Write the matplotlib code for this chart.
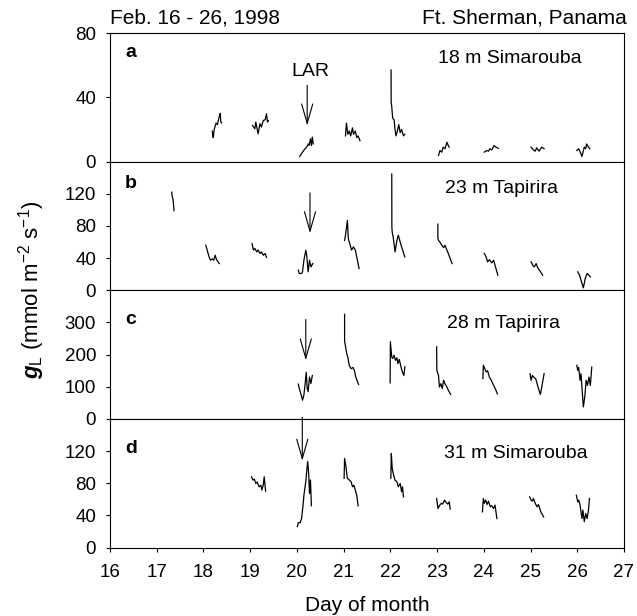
import matplotlib
matplotlib.use("Agg")
import matplotlib.pyplot as plt

plt.rcParams['font.family'] = ['Liberation Sans', 'DejaVu Sans']
plt.rcParams['mathtext.fontset'] = 'custom'
plt.rcParams['mathtext.rm'] = 'Liberation Sans'
plt.rcParams['mathtext.it'] = 'Liberation Sans:italic'
plt.rcParams['mathtext.bf'] = 'Liberation Sans:bold:italic'

# a: 18 m Simarouba, one list per day (time in day of month, gL in mmol m-2 s-1)
a_t = [
    [18.19, 18.20, 18.21, 18.23, 18.25, 18.27, 18.30, 18.32, 18.34, 18.36, 18.37, 18.39],
    [19.05, 19.10, 19.12, 19.17, 19.21, 19.24, 19.28, 19.32, 19.35, 19.37, 19.39],
    [20.06, 20.12, 20.17, 20.21, 20.24, 20.26, 20.29, 20.31, 20.33, 20.35],
    [21.04, 21.06, 21.09, 21.12, 21.15, 21.19, 21.21, 21.25, 21.28, 21.31, 21.35],
    [22.015, 22.017, 22.03, 22.05, 22.08, 22.10, 22.12, 22.15, 22.18, 22.21, 22.24, 22.28, 22.31],
    [23.03, 23.06, 23.10, 23.13, 23.17, 23.21, 23.24, 23.26],
    [24.01, 24.06, 24.10, 24.13, 24.17, 24.22, 24.26, 24.31],
    [25.01, 25.06, 25.10, 25.13, 25.18, 25.24, 25.29],
    [25.99, 26.03, 26.08, 26.10, 26.15, 26.18, 26.20, 26.24, 26.27],
]
a_g = [
    [19, 16, 15, 20, 22, 24, 23, 26, 28, 30, 25, 24],
    [22.5, 20.4, 24.6, 17.3, 23.6, 21.5, 25.6, 26, 29.8, 24.6, 25.5],
    [3.2, 5.9, 7.9, 9, 11, 10, 14.2, 10, 15.2, 11],
    [16, 24, 17, 19, 16, 21, 17, 19, 15, 16, 13],
    [57, 37, 34, 27, 26, 20, 16, 19, 23, 18, 20, 16, 17],
    [3.8, 6.9, 5.9, 9, 8, 12.1, 10, 9],
    [5.9, 6.9, 6.5, 8, 7.3, 10, 9, 8.3],
    [9, 7.3, 6.5, 8.6, 6.5, 9, 8],
    [6.9, 8, 4.8, 3.2, 9, 8, 11, 9, 8],
]

# b: 23 m Tapirira
b_t = [
    [17.32, 17.33, 17.35, 17.37],
    [18.05, 18.08, 18.12, 18.15, 18.19, 18.22, 18.25, 18.28, 18.34],
    [19.04, 19.07, 19.10, 19.14, 19.17, 19.21, 19.24, 19.28, 19.32, 19.35],
    [20.03, 20.05, 20.10, 20.12, 20.15, 20.19, 20.21, 20.24, 20.27, 20.30, 20.34],
    [21.02, 21.04, 21.08, 21.10, 21.14, 21.17, 21.21, 21.25, 21.28, 21.33],
    [22.03, 22.032, 22.04, 22.06, 22.10, 22.14, 22.17, 22.21, 22.24, 22.31],
    [23.016, 23.017, 23.03, 23.06, 23.10, 23.14, 23.17, 23.21, 23.24, 23.32],
    [24.01, 24.05, 24.08, 24.12, 24.17, 24.21, 24.30],
    [25.01, 25.05, 25.08, 25.12, 25.16, 25.19, 25.26],
    [26.01, 26.05, 26.09, 26.13, 26.17, 26.21, 26.25, 26.28],
]
b_g = [
    [122, 117, 113, 99],
    [56, 49.8, 41.5, 37.4, 39, 37.4, 43.6, 38, 33.2],
    [58, 50, 52, 47.7, 50, 45.7, 47.7, 43.6, 45.7, 40.7],
    [25, 20.8, 20.8, 23, 37.4, 49.8, 43.6, 22.9, 37.4, 29, 33.2],
    [62, 68.5, 87, 64.3, 56, 50, 54, 50, 41.5, 27],
    [144.5, 78.9, 72, 66.4, 47.7, 62, 68.5, 60, 54, 41.5],
    [82.2, 64.3, 62, 60, 56, 53, 56, 50, 45.7, 33.2],
    [45.7, 41.5, 35.3, 38, 34, 37.4, 18.7],
    [35.3, 31, 29, 33.2, 27, 25, 18.7],
    [22.9, 18.7, 10.4, 3, 14.6, 20.8, 18.7, 16.6],
]

# c: 28 m Tapirira
c_t = [
    [20.03, 20.05, 20.07, 20.10, 20.12, 20.15, 20.17, 20.20, 20.22, 20.24, 20.27, 20.30, 20.33],
    [21.02, 21.021, 21.03, 21.07, 21.09, 21.12, 21.16, 21.20, 21.23, 21.26, 21.32],
    [21.995, 22.0, 22.03, 22.05, 22.08, 22.11, 22.14, 22.16, 22.19, 22.23, 22.26, 22.29, 22.31],
    [22.99, 22.995, 23.03, 23.05, 23.08, 23.11, 23.14, 23.16, 23.21, 23.24, 23.29],
    [23.98, 23.99, 24.01, 24.05, 24.08, 24.12, 24.16, 24.21, 24.26, 24.29],
    [24.99, 25.01, 25.04, 25.08, 25.11, 25.13, 25.17, 25.21, 25.24, 25.29],
    [25.99, 26.01, 26.03, 26.06, 26.08, 26.11, 26.13, 26.16, 26.19, 26.22, 26.25, 26.28, 26.31],
]
c_g = [
    [108, 95, 85, 70, 58, 75, 100, 145, 95, 85, 130, 110, 135],
    [325, 239, 234, 200, 192, 166, 156, 160, 151, 130, 107],
    [112, 240, 192, 188, 198, 182, 190, 172, 185, 160, 145, 135, 162],
    [224, 151, 135, 99, 109.5, 94, 120, 111.6, 99, 89, 76],
    [125, 166.6, 160, 145.8, 150, 130, 120, 104, 89, 78],
    [140.6, 120, 135, 128, 125, 115, 94, 76, 99, 140.6],
    [166.6, 151, 160, 120, 140, 78, 37, 68, 120, 104, 130, 104, 161],
]

# d: 31 m Simarouba
d_t = [
    [19.03, 19.06, 19.09, 19.12, 19.15, 19.19, 19.23, 19.25, 19.28, 19.30, 19.33],
    [20.01, 20.03, 20.07, 20.10, 20.13, 20.15, 20.19, 20.23, 20.25, 20.27, 20.29, 20.31],
    [21.01, 21.02, 21.05, 21.08, 21.12, 21.16, 21.19, 21.22, 21.26, 21.28, 21.31],
    [22.01, 22.02, 22.04, 22.07, 22.10, 22.14, 22.17, 22.21, 22.24, 22.26, 22.28],
    [22.99, 23.02, 23.05, 23.09, 23.12, 23.16, 23.19, 23.23, 23.26, 23.28],
    [23.97, 23.99, 24.01, 24.04, 24.07, 24.10, 24.14, 24.17, 24.21, 24.24, 24.28],
    [24.98, 25.01, 25.04, 25.06, 25.10, 25.14, 25.17, 25.22, 25.28],
    [25.98, 26.01, 26.03, 26.06, 26.10, 26.12, 26.15, 26.18, 26.21, 26.24, 26.26],
]
d_g = [
    [88, 83.8, 85, 79.7, 81.5, 75.5, 77.5, 71.4, 77.5, 88, 70],
    [26, 31, 31, 36, 52, 65, 82, 107, 94, 67, 84, 52],
    [86, 110.8, 100.4, 86, 84, 81.7, 75.5, 77.5, 69.3, 65, 51.8],
    [86, 117, 98.3, 90, 83.8, 81.7, 75.5, 79.7, 69.3, 75.5, 63],
    [61, 48.5, 52, 55, 54, 59, 56, 54, 56.8, 47.7],
    [44.4, 61, 55, 59, 53.5, 57.5, 50.6, 52, 48.5, 52.7, 36],
    [63, 59, 57.7, 61, 55, 50.6, 53.5, 44.4, 38],
    [65, 56.8, 59, 52.7, 36, 46.5, 32, 42.3, 36, 46.5, 61],
]

letters = ['a', 'b', 'c', 'd']
names = ['18 m Simarouba', '23 m Tapirira', '28 m Tapirira', '31 m Simarouba']
ymax = [80, 160, 400, 160]
yticks = [[0, 40, 80], [0, 40, 80, 120], [0, 100, 200, 300], [0, 40, 80, 120]]
# LAR arrows: day, start and tip of the arrow (gL units)
lar_day = [20.22, 20.28, 20.19, 20.115]
lar_from = [47.5, 121, 309, 162]
lar_to = [22.5, 71, 182, 108]

fig, axes = plt.subplots(4, 1, sharex=True, figsize=(6.37, 6.16), dpi=100)
fig.subplots_adjust(left=110 / 637, right=624 / 637, top=1 - 33 / 616,
                    bottom=1 - 547.5 / 616, hspace=0)

all_t = [a_t, b_t, c_t, d_t]
all_g = [a_g, b_g, c_g, d_g]
letter_y = [0.85, 0.83, 0.77, 0.77]
name_x = [0.638, 0.652, 0.656, 0.65]
name_y = [0.80, 0.79, 0.74, 0.73]
for i, ax in enumerate(axes):
    for t, g in zip(all_t[i], all_g[i]):
        ax.plot(t, g, color='black', lw=0.9)
    ax.set_ylim(0, ymax[i])
    ax.set_yticks(yticks[i])
    ax.set_xlim(16, 27)
    ax.tick_params(axis='y', direction='out', length=3, width=0.8, pad=7, labelsize=13.5)
    for s in ax.spines.values():
        s.set_linewidth(0.8)
    ax.text(0.029, letter_y[i], letters[i], transform=ax.transAxes,
            fontsize=14, fontweight='bold', va='center')
    ax.text(name_x[i], name_y[i], names[i], transform=ax.transAxes,
            fontsize=14, va='center')
    ax.annotate('', xy=(lar_day[i], lar_to[i]), xytext=(lar_day[i], lar_from[i]),
                arrowprops=dict(arrowstyle='->,head_length=1.4,head_width=0.4',
                                lw=0.8, color='black', shrinkA=0, shrinkB=0,
                                mutation_scale=10), annotation_clip=False)
    if i < 3:
        ax.tick_params(axis='x', bottom=False)

axes[0].text(20.28, 56, 'LAR', fontsize=14, ha='center', va='center')

axes[3].set_xticks(range(16, 28))
axes[3].tick_params(axis='x', direction='out', length=3, width=0.8, labelsize=13.5, pad=9)
axes[3].set_xlabel('Day of month', fontsize=15, labelpad=11)

fig.text(0.05, 1 - 290 / 616, r'$\mathbf{g}_{\mathrm{L}}$ (mmol m$^{-2}$ s$^{-1}$)',
         rotation=90, fontsize=16, ha='center', va='center')
fig.text(110 / 637, 1 - 18 / 616, 'Feb. 16 - 26, 1998', fontsize=15, ha='left', va='center')
fig.text(627 / 637, 1 - 18 / 616, 'Ft. Sherman, Panama', fontsize=15, ha='right', va='center')

fig.savefig('out.png', dpi=100)
